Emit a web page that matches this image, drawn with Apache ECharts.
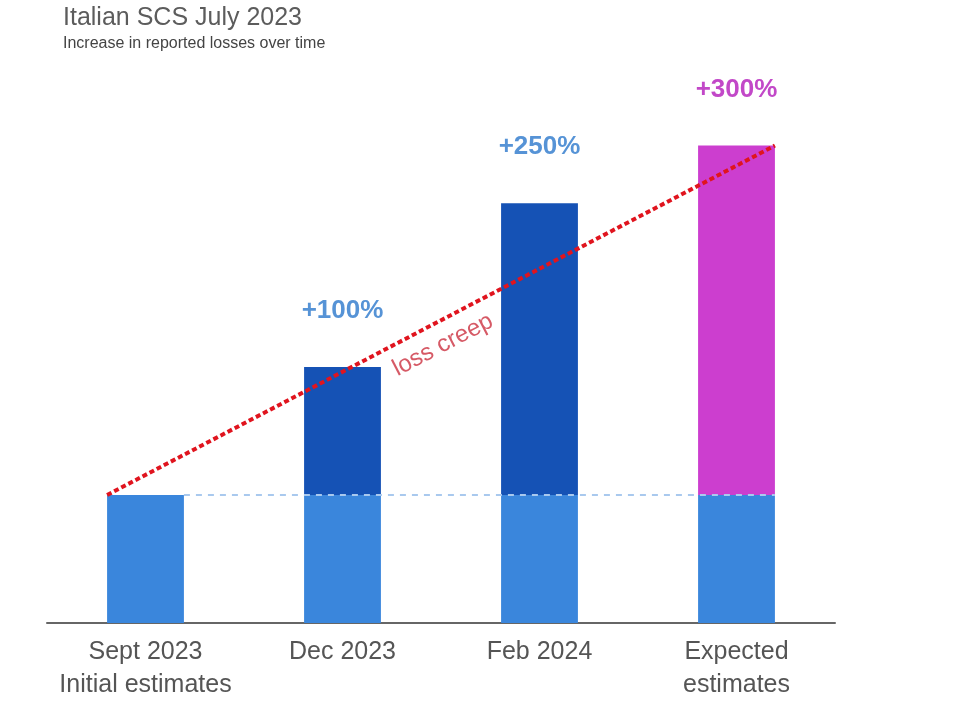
<!DOCTYPE html>
<html>
<head>
<meta charset="utf-8">
<script src="https://cdn.jsdelivr.net/npm/echarts@6/dist/echarts.min.js"></script>
<style>
html,body{margin:0;padding:0;background:#fff;}
#chart{width:960px;height:716px;}
</style>
</head>
<body>
<div id="chart"></div>
<script>
// ---- data ----
var categories = ['Sept 2023\nInitial estimates', 'Dec 2023', 'Feb 2024', 'Expected\nestimates'];
var baseValues = [1, 1, 1, 1];
var increaseValues = [0, 1.0, 2.28, 2.73];
var increaseLabels = ['', '+100%', '+250%', '+300%'];
var increaseColors = ['#1552b5', '#1552b5', '#1552b5', '#cc3ecf'];
var labelColors = ['#5693d6', '#5693d6', '#5693d6', '#c248c8'];
var trendText = 'loss creep';

var halfBar = 0.195; // half of bar width, in category units
var lastIdx = categories.length - 1;
var lastTotal = baseValues[lastIdx] + increaseValues[lastIdx];

var chart = echarts.init(document.getElementById('chart'));
chart.setOption({
  animation: false,
  backgroundColor: '#ffffff',
  title: {
    text: 'Italian SCS July 2023',
    subtext: 'Increase in reported losses over time',
    left: 58,
    top: 0,
    itemGap: 5,
    textStyle: {fontFamily: 'Liberation Sans, Arial, sans-serif', fontSize: 25, fontWeight: 'normal', color: '#5c5c5c', lineHeight: 26},
    subtextStyle: {fontFamily: 'Liberation Sans, Arial, sans-serif', fontSize: 16, color: '#444', lineHeight: 16}
  },
  grid: {left: 47, right: 125, top: 111, bottom: 93},
  xAxis: [{
    type: 'category',
    data: categories,
    axisLine: {lineStyle: {color: '#666', width: 2}},
    axisTick: {show: false},
    axisLabel: {interval: 0, fontFamily: 'Liberation Sans, Arial, sans-serif', fontSize: 25, lineHeight: 33, color: '#555', margin: 13}
  }, {
    type: 'value',
    min: -0.5,
    max: categories.length - 0.5,
    show: false
  }],
  yAxis: {type: 'value', min: 0, max: 4, show: false},
  series: [{
    name: 'base',
    type: 'bar',
    stack: 'a',
    barWidth: '39%',
    data: baseValues,
    itemStyle: {color: '#3a86dc'},
    z: 2
  }, {
    name: 'increase',
    type: 'bar',
    stack: 'a',
    barWidth: '39%',
    data: increaseValues.map(function (v, i) {
      return {
        value: v,
        itemStyle: {color: increaseColors[i]},
        label: {color: labelColors[i]}
      };
    }),
    label: {
      show: true,
      position: 'top',
      distance: 43,
      fontFamily: 'Liberation Sans, Arial, sans-serif',
      fontSize: 26,
      fontWeight: 'bold',
      formatter: function (p) { return increaseLabels[p.dataIndex]; }
    },
    z: 2
  }, {
    name: 'baseline',
    type: 'line',
    xAxisIndex: 1,
    data: [[halfBar, baseValues[0]], [lastIdx + halfBar, baseValues[lastIdx]]],
    symbol: 'none',
    lineStyle: {color: '#a9c9ee', width: 2, type: [6, 6]},
    z: 5
  }, {
    name: 'loss creep',
    type: 'line',
    xAxisIndex: 1,
    data: [[-halfBar, baseValues[0]], [lastIdx + halfBar, lastTotal]],
    symbol: 'none',
    lineStyle: {color: '#e0141e', width: 4, type: [5, 3]},
    z: 6
  }],
  graphic: [{
    type: 'text',
    x: 443,
    y: 345,
    rotation: 0.48,
    style: {
      text: trendText,
      fontFamily: 'Liberation Sans, Arial, sans-serif',
      fontSize: 24,
      fill: '#d65a66',
      align: 'center',
      verticalAlign: 'middle'
    },
    z: 10
  }]
});
</script>
</body>
</html>
